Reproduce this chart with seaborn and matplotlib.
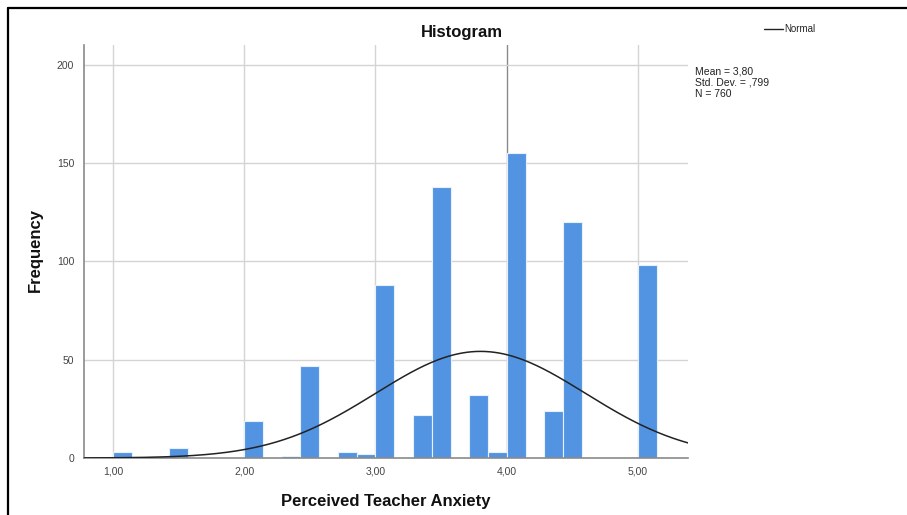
import numpy as np
import pandas as pd
import matplotlib
matplotlib.use("Agg")
import matplotlib.pyplot as plt
from matplotlib.lines import Line2D
import seaborn as sns

# ---- data ----
score_values = [1.07, 1.50, 2.07, 2.36, 2.50, 2.79, 2.93, 3.07, 3.36, 3.50,
                3.79, 3.93, 4.07, 4.36, 4.50, 5.07]
frequencies = [3, 5, 19, 1, 47, 3, 2, 88, 22, 138, 32, 3, 155, 24, 120, 98]
x_ticks = [1, 2, 3, 4, 5]
x_tick_labels = ["1,00", "2,00", "3,00", "4,00", "5,00"]
y_ticks = [0, 50, 100, 150, 200]
stat_mean = 3.80
stat_sd = 0.799
stat_n = 760
bin_width = 1 / 7

df = pd.DataFrame({"score": score_values, "freq": frequencies})

sns.set_theme(style="white")
plt.rcParams["font.family"] = ["Liberation Sans", "DejaVu Sans"]

W, H = 907, 515
fig = plt.figure(figsize=(W / 100, H / 100), dpi=100)
ax = fig.add_axes([84 / W, 1 - 458 / H, (688 - 84) / W, (458 - 45) / H])

# grid
for t in x_ticks:
    ax.axvline(t, color="#8a8a8a" if t == 4 else "#d4d4d4", lw=1.0, zorder=0)
for t in y_ticks[1:]:
    ax.axhline(t, color="#d4d4d4", lw=1.0, zorder=0)

sns.histplot(data=df, x="score", weights="freq", binwidth=bin_width,
             binrange=(1.0, 1.0 + 29 * bin_width), color="#5294E2",
             alpha=1.0, edgecolor="#e8f0fb", linewidth=0.8, ax=ax, zorder=2)

# normal curve from stated statistics
xs = np.linspace(0.78, 5.38, 400)
ys = stat_n * bin_width / (stat_sd * np.sqrt(2 * np.pi)) * np.exp(-0.5 * ((xs - stat_mean) / stat_sd) ** 2)
sns.lineplot(x=xs, y=ys, color="#222222", lw=1.1, ax=ax, zorder=3)

ax.set_xlim(0.78, 5.38)
ax.set_ylim(0, 210)
ax.set_xticks(x_ticks)
ax.set_xticklabels(x_tick_labels)
ax.set_yticks(y_ticks)
ax.tick_params(axis="both", length=0, labelsize=7.5, labelcolor="#444444")
ax.tick_params(axis="x", pad=6)
ax.tick_params(axis="y", pad=7)

for s in ["top", "right"]:
    ax.spines[s].set_visible(False)
for s in ["left", "bottom"]:
    ax.spines[s].set_color("#8a8a8a")
    ax.spines[s].set_linewidth(1.2)

ax.set_xlabel("Perceived Teacher Anxiety", fontsize=12, fontweight="bold", color="#111111")
ax.set_ylabel("Frequency", fontsize=12, fontweight="bold", color="#111111")
ax.xaxis.set_label_coords((386 - 84) / 604, (458 - 494) / 413)
ax.yaxis.set_label_coords((43 - 84) / 604, (458 - 250) / 413)

fig.text(462 / W, 1 - 32 / H, "Histogram", ha="center", va="center",
         fontsize=12, fontweight="bold", color="#111111")

# legend
handle = Line2D([0], [0], color="#222222", lw=1.0)
fig.legend(handles=[handle], labels=["Normal"], loc="center left",
           bbox_to_anchor=(760 / W, 1 - 29 / H), frameon=False,
           handlelength=2.0, handletextpad=0.1, fontsize=7, borderaxespad=0)

fig.text(695 / W, 1 - 67 / H,
         f"Mean = {stat_mean:.2f}".replace(".", ",") + "\n"
         + "Std. Dev. = ," + f"{stat_sd:.3f}".split(".")[1] + "\n"
         + f"N = {stat_n}",
         ha="left", va="top", fontsize=7.5, linespacing=1.12, color="#222222")

# page border (screenshot frame)
fig.add_artist(Line2D([8 / W, 1.0], [1 - 7.5 / H, 1 - 7.5 / H], color="black", lw=1.6,
                      transform=fig.transFigure))
fig.add_artist(Line2D([8 / W, 8 / W], [0, 1 - 7.5 / H], color="black", lw=1.6,
                      transform=fig.transFigure))

fig.savefig("out.png", dpi=100)
